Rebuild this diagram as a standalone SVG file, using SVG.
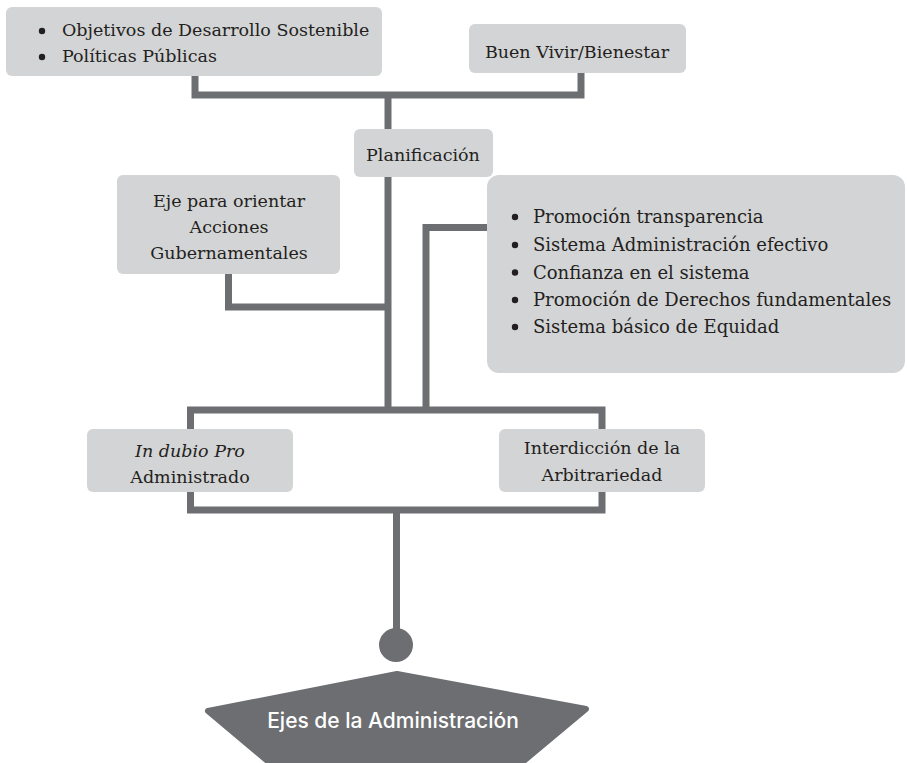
<svg xmlns="http://www.w3.org/2000/svg" width="907" height="763" viewBox="0 0 907 763">
<style>
.box{fill:#d3d4d6}
.t{font-family:"DejaVu Serif","Liberation Serif",serif;font-size:17.5px;fill:#231f20}
.tb{font-family:"DejaVu Serif","Liberation Serif",serif;font-size:18px;fill:#231f20}
.c{text-anchor:middle}
.ln{fill:none;stroke:#6d6e71;stroke-width:7;stroke-linecap:butt;stroke-linejoin:miter}
.dot{fill:#231f20}
</style>
<rect width="907" height="763" fill="#ffffff"/>
<g id="connectors">
<path class="ln" d="M195,76 V95 H581 V73"/>
<path class="ln" d="M388,95 V129"/>
<path class="ln" d="M388,177 V410"/>
<path class="ln" d="M228.5,274 V307 H388"/>
<path class="ln" d="M426,410 V227.5 H487"/>
<path class="ln" d="M190.5,429 V410 H602 V429"/>
<path class="ln" d="M190.5,492 V510 H602 V492"/>
<path class="ln" d="M396.5,510 V640"/>
<circle cx="396" cy="645" r="17" fill="#6d6e71"/>
</g>
<g id="n-ods">
<rect class="box" x="6" y="7" width="376" height="69" rx="6"/>
<circle class="dot" cx="42" cy="31" r="3.2"/>
<circle class="dot" cx="42" cy="57" r="3.2"/>
<text class="t" x="62" y="36">Objetivos de Desarrollo Sostenible</text>
<text class="t" x="62" y="62">Políticas Públicas</text>
</g>
<g id="n-buenvivir">
<rect class="box" x="469" y="24" width="217" height="49" rx="6"/>
<text class="t c" x="577" y="58">Buen Vivir/Bienestar</text>
</g>
<g id="n-planificacion">
<rect class="box" x="354" y="129" width="139" height="48" rx="6"/>
<text class="t c" x="423" y="161">Planificación</text>
</g>
<g id="n-eje">
<rect class="box" x="117" y="175" width="223" height="99" rx="6"/>
<text class="t c" x="229" y="207">Eje para orientar</text>
<text class="t c" x="229" y="233">Acciones</text>
<text class="t c" x="229" y="259">Gubernamentales</text>
</g>
<g id="n-principios">
<rect class="box" x="487" y="175" width="418" height="198" rx="12"/>
<circle class="dot" cx="515" cy="217" r="3.2"/>
<circle class="dot" cx="515" cy="245" r="3.2"/>
<circle class="dot" cx="515" cy="272.5" r="3.2"/>
<circle class="dot" cx="515" cy="300" r="3.2"/>
<circle class="dot" cx="515" cy="327" r="3.2"/>
<text class="tb" x="533" y="223">Promoción transparencia</text>
<text class="tb" x="533" y="251">Sistema Administración efectivo</text>
<text class="tb" x="533" y="278.5">Confianza en el sistema</text>
<text class="tb" x="533" y="306">Promoción de Derechos fundamentales</text>
<text class="tb" x="533" y="333">Sistema básico de Equidad</text>
</g>
<g id="n-indubio">
<rect class="box" x="87" y="429" width="206" height="63" rx="6"/>
<text class="t c" x="190" y="457" font-style="italic">In dubio Pro</text>
<text class="t c" x="190" y="483">Administrado</text>
</g>
<g id="n-interdiccion">
<rect class="box" x="499" y="429" width="206" height="63" rx="6"/>
<text class="t c" x="602" y="454">Interdicción de la</text>
<text class="t c" x="602" y="481">Arbitrariedad</text>
</g>
<g id="n-ejes">
<polygon points="397,674 586,709 477,800 314,800 208,711" fill="#6d6e71" stroke="#6d6e71" stroke-width="6" stroke-linejoin="round"/>
<text x="393" y="728" text-anchor="middle" font-family="Inter,'Open Sans',sans-serif" font-size="21" font-weight="500" fill="#ffffff">Ejes de la Administración</text>
</g>
</svg>
